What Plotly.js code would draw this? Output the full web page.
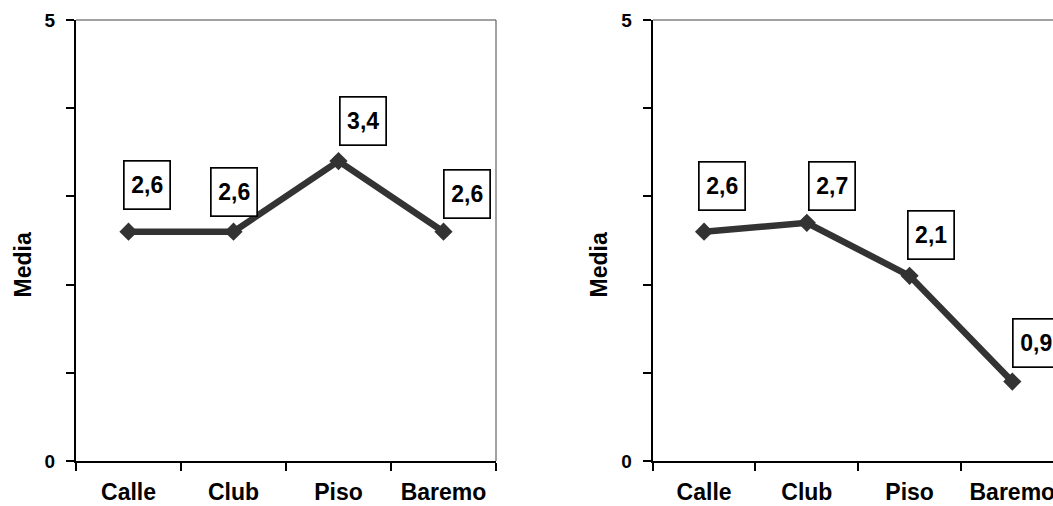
<!DOCTYPE html>
<html><head><meta charset="utf-8">
<script src="https://cdn.plot.ly/plotly-3.0.1.min.js"></script>
<style>html,body{margin:0;padding:0;overflow:hidden;background:#fff}</style>
</head><body>
<div id="chart"></div>
<script>
const categories = ["Calle", "Club", "Piso", "Baremo"];
const valuesLeft = [2.6, 2.6, 3.4, 2.6];
const valuesRight = [2.6, 2.7, 2.1, 0.9];
const yTickVals = [0, 1, 2, 3, 4, 5];
const yTickText = ["0", "", "", "", "", "5"];
const yTitle = "Media";

// label pixel offsets (layout only)
const shiftLeft = [[18, 47], [0, 40], [24, 40], [23, 38]];
const shiftRight = [[18, 46], [25, 37], [21, 41], [24, 39]];

const W = 1070, H = 506;
const FONT = "Liberation Sans, Arial, sans-serif";
const lineColor = "#333333";

function fmt(v) { return v.toFixed(1).replace(".", ","); }

function trace(vals, xa, ya) {
  return {
    x: categories, y: vals, xaxis: xa, yaxis: ya, type: "scatter", mode: "lines+markers",
    line: {color: lineColor, width: 6.5}, marker: {symbol: "diamond", size: 14, color: lineColor},
    hoverinfo: "skip", showlegend: false, cliponaxis: false
  };
}

function xaxis(dom, anchor) {
  return {
    domain: dom, anchor: anchor, type: "category", range: [-0.5, 3.5],
    tickson: "boundaries", ticks: "outside", ticklen: 8, tickwidth: 2, tickcolor: "#000",
    showline: true, linewidth: 2, linecolor: "#000", showgrid: false, zeroline: false,
    tickfont: {family: FONT, size: 23, color: "#000", weight: "bold"},
    ticklabelstandoff: 9, fixedrange: true
  };
}
function yaxis(anchor) {
  return {
    domain: [45 / H, 1 - 20 / H], anchor: anchor, range: [0, 5],
    tickvals: yTickVals, ticktext: yTickText, ticks: "outside", ticklen: 8, tickwidth: 2, tickcolor: "#000",
    showline: true, linewidth: 2, linecolor: "#000", showgrid: false, zeroline: false,
    tickfont: {family: FONT, size: 19, color: "#000", weight: "bold"},
    ticklabelstandoff: 7, fixedrange: true
  };
}

function labels(vals, xr, yr, shifts) {
  return vals.map((v, i) => ({
    x: categories[i], y: v, xref: xr, yref: yr, text: "<b>" + fmt(v) + "</b>",
    showarrow: false, xshift: shifts[i][0], yshift: shifts[i][1],
    font: {family: FONT, size: 23, color: "#000"},
    bgcolor: "#fff", bordercolor: "#000", borderwidth: 1.7, width: 43, height: 45,
    align: "center", valign: "middle"
  }));
}

const annotations = [
  ...labels(valuesLeft, "x", "y", shiftLeft),
  ...labels(valuesRight, "x2", "y2", shiftRight),
  {x: 22 / W, y: 0.5 - 12.5 / H, xref: "paper", yref: "paper", text: "<b>" + yTitle + "</b>", textangle: -90,
   showarrow: false, xanchor: "center", yanchor: "middle", font: {family: FONT, size: 23, color: "#000"}},
  {x: 598 / W, y: 0.5 - 12.5 / H, xref: "paper", yref: "paper", text: "<b>" + yTitle + "</b>", textangle: -90,
   showarrow: false, xanchor: "center", yanchor: "middle", font: {family: FONT, size: 23, color: "#000"}}
];

function frame(xr, yr) {
  return [
    {type: "line", xref: xr + " domain", yref: yr + " domain", x0: 0, x1: 1, y0: 1, y1: 1, line: {color: "#444", width: 1}},
    {type: "line", xref: xr + " domain", yref: yr + " domain", x0: 1, x1: 1, y0: 0, y1: 1, line: {color: "#444", width: 1}}
  ];
}

const layout = {
  width: W, height: H, margin: {l: 0, r: 0, t: 0, b: 0},
  paper_bgcolor: "#fff", plot_bgcolor: "#fff",
  xaxis: xaxis([76 / W, 496 / W], "y"),
  yaxis: yaxis("x"),
  xaxis2: xaxis([652.7 / W, 1063.7 / W], "y2"),
  yaxis2: yaxis("x2"),
  annotations: annotations,
  shapes: [...frame("x", "y"), ...frame("x2", "y2")]
};

Plotly.newPlot("chart", [trace(valuesLeft, "x", "y"), trace(valuesRight, "x2", "y2")], layout,
  {displayModeBar: false, staticPlot: true});
</script>
</body></html>
